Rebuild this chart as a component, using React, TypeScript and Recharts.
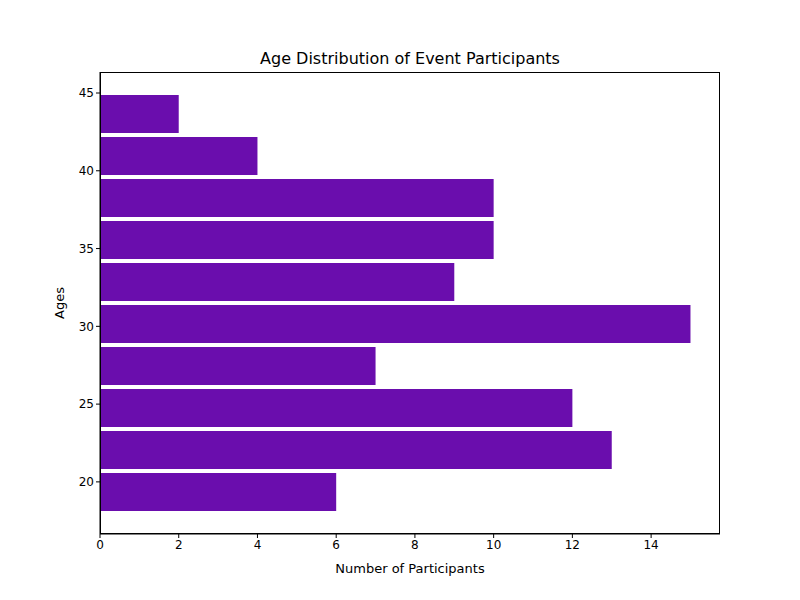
import React from "react";
import { ComposedChart, Bar, XAxis, YAxis } from "recharts";

const binMids = [19.35, 22.05, 24.75, 27.45, 30.15, 32.85, 35.55, 38.25, 40.95, 43.65];
const counts = [6, 13, 12, 7, 15, 9, 10, 10, 4, 2];
const yTicks = [20, 25, 30, 35, 40, 45];
const xTicks = [0, 2, 4, 6, 8, 10, 12, 14];

const data = binMids.map((m, i) => ({ mid: m, count: counts[i] }));
const font = "DejaVu Sans, sans-serif";

export default function App() {
  return (
    <div style={{ position: "absolute", left: 0, top: 0, width: 800, height: 600, background: "#fff", fontFamily: font }}>
      <div style={{ position: "absolute", top: 49, left: 100, width: 620, textAlign: "center", fontSize: 16 }}>
        Age Distribution of Event Participants
      </div>
      <div style={{ position: "absolute", top: 561, left: 100, width: 620, textAlign: "center", fontSize: 13 }}>
        Number of Participants
      </div>
      <div style={{ position: "absolute", left: 59, top: 303, transform: "translate(-50%,-50%) rotate(-90deg)", fontSize: 13 }}>
        Ages
      </div>
      <ComposedChart width={800} height={600} layout="vertical" data={data}
        margin={{ top: 72, right: 80, left: 40, bottom: 36 }}>
        <XAxis type="number" dataKey="count" domain={[0, 15.75]} ticks={xTicks} allowDataOverflow
          stroke="#000" tick={{ fill: "#000", fontSize: 12, fontFamily: font }} tickSize={4} height={30} />
        <YAxis type="number" dataKey="mid" domain={[16.65, 46.35]} ticks={yTicks} allowDataOverflow reversed
          stroke="#000" tick={{ fill: "#000", fontSize: 12, fontFamily: font }} tickSize={4} width={60} />
        <Bar dataKey="count" fill="#6a0dad" barSize={38} isAnimationActive={false} />
      </ComposedChart>
      <div style={{ position: "absolute", left: 100, top: 72, width: 620, height: 462, border: "1px solid #000", boxSizing: "border-box", pointerEvents: "none" }} />
    </div>
  );
}
